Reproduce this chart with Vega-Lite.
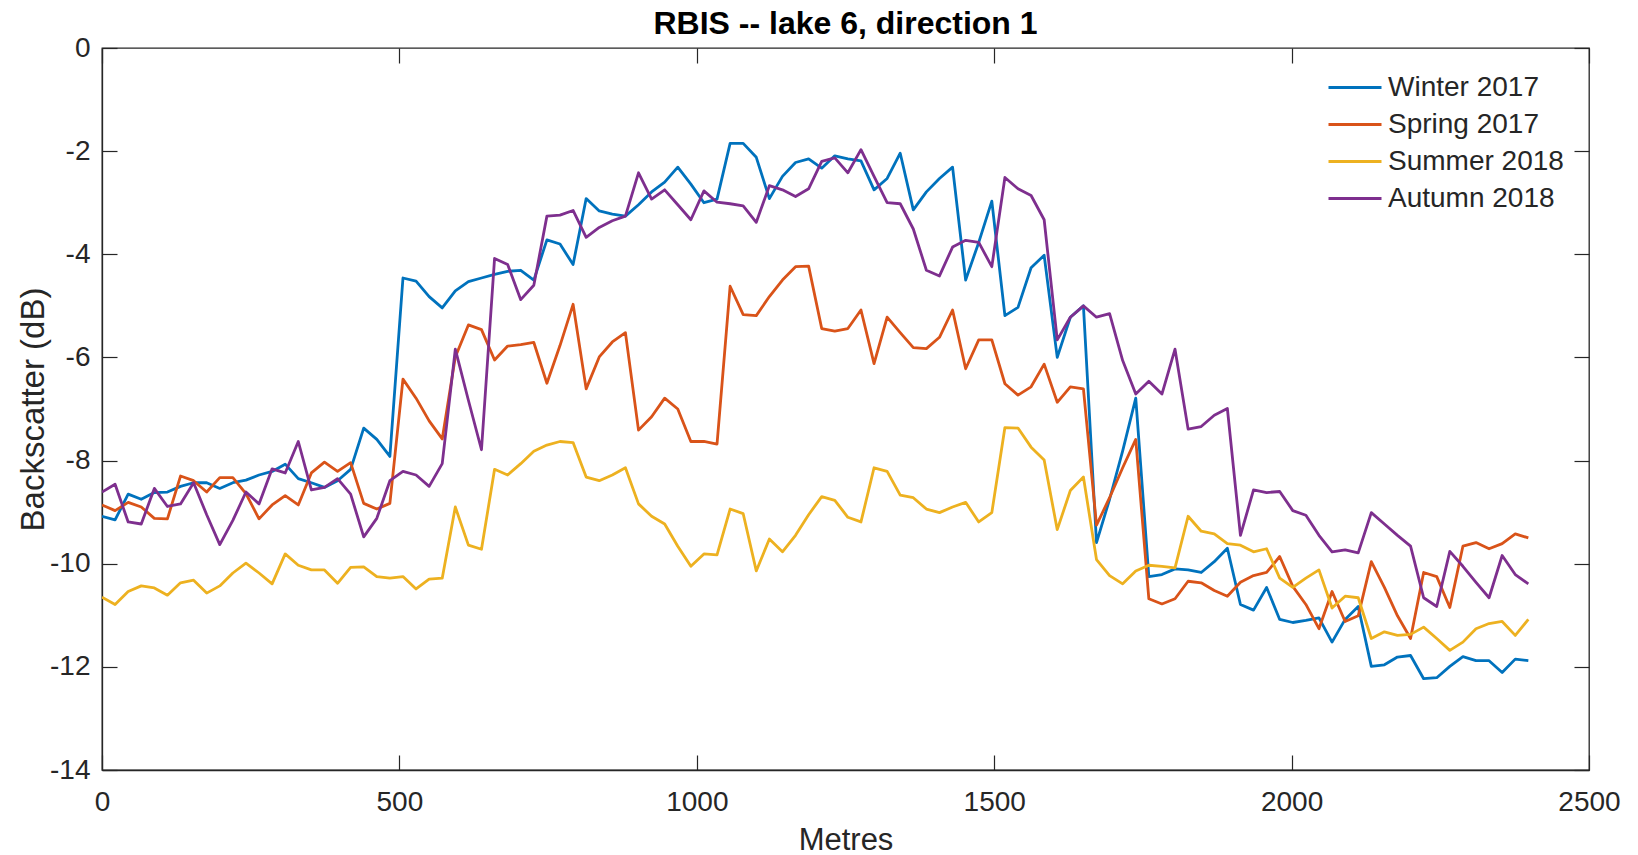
{
"$schema": "https://vega.github.io/schema/vega-lite/v6.json",
"width": 1487,
"height": 722,
"autosize": "none",
"padding": {"left": 102, "top": 48, "right": 49, "bottom": 85},
"background": "white",
"title": {"text": "RBIS -- lake 6, direction 1", "font": "Liberation Sans", "fontSize": 32, "fontWeight": "bold", "color": "#000000", "anchor": "middle", "offset": -7},
"config": {
  "font": "Liberation Sans",
  "view": {"stroke": "#262626", "strokeWidth": 1.3},
  "axis": {"grid": false, "domainColor": "#262626", "domainWidth": 1.3, "tickColor": "#262626", "tickWidth": 1.2, "tickSize": -15, "labelColor": "#262626", "labelFont": "Liberation Sans", "labelFontSize": 28, "titleColor": "#262626", "titleFont": "Liberation Sans", "titleFontSize": 31, "titleFontWeight": "normal", "labelFlush": false, "labelOverlap": false}
},
"data": {"values": [
{"m":0,"Winter 2017":-9.08,"Spring 2017":-8.86,"Summer 2018":-10.65,"Autumn 2018":-8.61},
{"m":22,"Winter 2017":-9.15,"Spring 2017":-8.97,"Summer 2018":-10.79,"Autumn 2018":-8.46},
{"m":44,"Winter 2017":-8.65,"Spring 2017":-8.81,"Summer 2018":-10.54,"Autumn 2018":-9.19},
{"m":66,"Winter 2017":-8.75,"Spring 2017":-8.9,"Summer 2018":-10.43,"Autumn 2018":-9.23},
{"m":88,"Winter 2017":-8.62,"Spring 2017":-9.12,"Summer 2018":-10.47,"Autumn 2018":-8.54},
{"m":110,"Winter 2017":-8.61,"Spring 2017":-9.13,"Summer 2018":-10.61,"Autumn 2018":-8.89},
{"m":132,"Winter 2017":-8.5,"Spring 2017":-8.3,"Summer 2018":-10.37,"Autumn 2018":-8.84},
{"m":154,"Winter 2017":-8.43,"Spring 2017":-8.39,"Summer 2018":-10.32,"Autumn 2018":-8.43},
{"m":176,"Winter 2017":-8.43,"Spring 2017":-8.61,"Summer 2018":-10.57,"Autumn 2018":-9.05},
{"m":198,"Winter 2017":-8.54,"Spring 2017":-8.33,"Summer 2018":-10.43,"Autumn 2018":-9.63},
{"m":220,"Winter 2017":-8.43,"Spring 2017":-8.33,"Summer 2018":-10.18,"Autumn 2018":-9.16},
{"m":242,"Winter 2017":-8.38,"Spring 2017":-8.64,"Summer 2018":-9.99,"Autumn 2018":-8.61},
{"m":264,"Winter 2017":-8.28,"Spring 2017":-9.13,"Summer 2018":-10.18,"Autumn 2018":-8.84},
{"m":286,"Winter 2017":-8.21,"Spring 2017":-8.86,"Summer 2018":-10.39,"Autumn 2018":-8.16},
{"m":308,"Winter 2017":-8.07,"Spring 2017":-8.68,"Summer 2018":-9.81,"Autumn 2018":-8.24},
{"m":330,"Winter 2017":-8.35,"Spring 2017":-8.86,"Summer 2018":-10.03,"Autumn 2018":-7.63},
{"m":352,"Winter 2017":-8.43,"Spring 2017":-8.24,"Summer 2018":-10.12,"Autumn 2018":-8.57},
{"m":374,"Winter 2017":-8.52,"Spring 2017":-8.03,"Summer 2018":-10.12,"Autumn 2018":-8.52},
{"m":396,"Winter 2017":-8.39,"Spring 2017":-8.21,"Summer 2018":-10.38,"Autumn 2018":-8.35},
{"m":418,"Winter 2017":-8.17,"Spring 2017":-8.04,"Summer 2018":-10.07,"Autumn 2018":-8.65},
{"m":440,"Winter 2017":-7.37,"Spring 2017":-8.83,"Summer 2018":-10.06,"Autumn 2018":-9.48},
{"m":462,"Winter 2017":-7.59,"Spring 2017":-8.94,"Summer 2018":-10.25,"Autumn 2018":-9.12},
{"m":484,"Winter 2017":-7.92,"Spring 2017":-8.83,"Summer 2018":-10.28,"Autumn 2018":-8.39},
{"m":506,"Winter 2017":-4.46,"Spring 2017":-6.42,"Summer 2018":-10.25,"Autumn 2018":-8.21},
{"m":528,"Winter 2017":-4.52,"Spring 2017":-6.79,"Summer 2018":-10.49,"Autumn 2018":-8.28},
{"m":550,"Winter 2017":-4.82,"Spring 2017":-7.23,"Summer 2018":-10.3,"Autumn 2018":-8.5},
{"m":572,"Winter 2017":-5.04,"Spring 2017":-7.58,"Summer 2018":-10.28,"Autumn 2018":-8.06},
{"m":594,"Winter 2017":-4.71,"Spring 2017":-5.99,"Summer 2018":-8.9,"Autumn 2018":-5.84},
{"m":616,"Winter 2017":-4.53,"Spring 2017":-5.37,"Summer 2018":-9.64,"Autumn 2018":-6.83},
{"m":638,"Winter 2017":-4.46,"Spring 2017":-5.46,"Summer 2018":-9.72,"Autumn 2018":-7.79},
{"m":660,"Winter 2017":-4.39,"Spring 2017":-6.05,"Summer 2018":-8.17,"Autumn 2018":-4.08},
{"m":682,"Winter 2017":-4.33,"Spring 2017":-5.78,"Summer 2018":-8.28,"Autumn 2018":-4.2},
{"m":704,"Winter 2017":-4.31,"Spring 2017":-5.75,"Summer 2018":-8.06,"Autumn 2018":-4.88},
{"m":726,"Winter 2017":-4.5,"Spring 2017":-5.71,"Summer 2018":-7.82,"Autumn 2018":-4.6},
{"m":748,"Winter 2017":-3.72,"Spring 2017":-6.5,"Summer 2018":-7.7,"Autumn 2018":-3.26},
{"m":770,"Winter 2017":-3.8,"Spring 2017":-5.77,"Summer 2018":-7.63,"Autumn 2018":-3.24},
{"m":792,"Winter 2017":-4.2,"Spring 2017":-4.97,"Summer 2018":-7.65,"Autumn 2018":-3.15},
{"m":814,"Winter 2017":-2.92,"Spring 2017":-6.61,"Summer 2018":-8.32,"Autumn 2018":-3.67},
{"m":836,"Winter 2017":-3.16,"Spring 2017":-5.99,"Summer 2018":-8.39,"Autumn 2018":-3.48},
{"m":858,"Winter 2017":-3.22,"Spring 2017":-5.7,"Summer 2018":-8.28,"Autumn 2018":-3.35},
{"m":880,"Winter 2017":-3.26,"Spring 2017":-5.52,"Summer 2018":-8.14,"Autumn 2018":-3.26},
{"m":902,"Winter 2017":-3.04,"Spring 2017":-7.41,"Summer 2018":-8.84,"Autumn 2018":-2.42},
{"m":924,"Winter 2017":-2.79,"Spring 2017":-7.15,"Summer 2018":-9.08,"Autumn 2018":-2.93},
{"m":946,"Winter 2017":-2.6,"Spring 2017":-6.79,"Summer 2018":-9.23,"Autumn 2018":-2.75},
{"m":968,"Winter 2017":-2.31,"Spring 2017":-7.0,"Summer 2018":-9.66,"Autumn 2018":-3.04},
{"m":990,"Winter 2017":-2.64,"Spring 2017":-7.63,"Summer 2018":-10.05,"Autumn 2018":-3.33},
{"m":1012,"Winter 2017":-3.0,"Spring 2017":-7.63,"Summer 2018":-9.81,"Autumn 2018":-2.77},
{"m":1034,"Winter 2017":-2.93,"Spring 2017":-7.68,"Summer 2018":-9.83,"Autumn 2018":-2.99},
{"m":1056,"Winter 2017":-1.85,"Spring 2017":-4.62,"Summer 2018":-8.94,"Autumn 2018":-3.02},
{"m":1078,"Winter 2017":-1.85,"Spring 2017":-5.17,"Summer 2018":-9.03,"Autumn 2018":-3.06},
{"m":1100,"Winter 2017":-2.12,"Spring 2017":-5.19,"Summer 2018":-10.14,"Autumn 2018":-3.38},
{"m":1122,"Winter 2017":-2.92,"Spring 2017":-4.82,"Summer 2018":-9.52,"Autumn 2018":-2.67},
{"m":1144,"Winter 2017":-2.49,"Spring 2017":-4.5,"Summer 2018":-9.77,"Autumn 2018":-2.75},
{"m":1166,"Winter 2017":-2.22,"Spring 2017":-4.24,"Summer 2018":-9.45,"Autumn 2018":-2.88},
{"m":1188,"Winter 2017":-2.15,"Spring 2017":-4.23,"Summer 2018":-9.05,"Autumn 2018":-2.73},
{"m":1210,"Winter 2017":-2.33,"Spring 2017":-5.44,"Summer 2018":-8.7,"Autumn 2018":-2.2},
{"m":1232,"Winter 2017":-2.09,"Spring 2017":-5.49,"Summer 2018":-8.77,"Autumn 2018":-2.13},
{"m":1254,"Winter 2017":-2.15,"Spring 2017":-5.44,"Summer 2018":-9.1,"Autumn 2018":-2.42},
{"m":1276,"Winter 2017":-2.19,"Spring 2017":-5.08,"Summer 2018":-9.19,"Autumn 2018":-1.97},
{"m":1298,"Winter 2017":-2.75,"Spring 2017":-6.12,"Summer 2018":-8.14,"Autumn 2018":-2.49},
{"m":1320,"Winter 2017":-2.53,"Spring 2017":-5.22,"Summer 2018":-8.21,"Autumn 2018":-3.0},
{"m":1342,"Winter 2017":-2.04,"Spring 2017":-5.52,"Summer 2018":-8.67,"Autumn 2018":-3.02},
{"m":1364,"Winter 2017":-3.14,"Spring 2017":-5.81,"Summer 2018":-8.72,"Autumn 2018":-3.51},
{"m":1386,"Winter 2017":-2.79,"Spring 2017":-5.83,"Summer 2018":-8.94,"Autumn 2018":-4.31},
{"m":1408,"Winter 2017":-2.53,"Spring 2017":-5.61,"Summer 2018":-9.01,"Autumn 2018":-4.42},
{"m":1430,"Winter 2017":-2.31,"Spring 2017":-5.08,"Summer 2018":-8.9,"Autumn 2018":-3.86},
{"m":1452,"Winter 2017":-4.5,"Spring 2017":-6.22,"Summer 2018":-8.81,"Autumn 2018":-3.73},
{"m":1474,"Winter 2017":-3.77,"Spring 2017":-5.66,"Summer 2018":-9.19,"Autumn 2018":-3.77},
{"m":1496,"Winter 2017":-2.97,"Spring 2017":-5.66,"Summer 2018":-9.01,"Autumn 2018":-4.24},
{"m":1518,"Winter 2017":-5.19,"Spring 2017":-6.51,"Summer 2018":-7.36,"Autumn 2018":-2.51},
{"m":1540,"Winter 2017":-5.03,"Spring 2017":-6.73,"Summer 2018":-7.37,"Autumn 2018":-2.73},
{"m":1562,"Winter 2017":-4.26,"Spring 2017":-6.57,"Summer 2018":-7.74,"Autumn 2018":-2.86},
{"m":1584,"Winter 2017":-4.02,"Spring 2017":-6.13,"Summer 2018":-7.99,"Autumn 2018":-3.33},
{"m":1606,"Winter 2017":-6.0,"Spring 2017":-6.87,"Summer 2018":-9.34,"Autumn 2018":-5.66},
{"m":1628,"Winter 2017":-5.22,"Spring 2017":-6.57,"Summer 2018":-8.58,"Autumn 2018":-5.22},
{"m":1650,"Winter 2017":-5.0,"Spring 2017":-6.61,"Summer 2018":-8.32,"Autumn 2018":-5.0},
{"m":1672,"Winter 2017":-9.59,"Spring 2017":-9.25,"Summer 2018":-9.92,"Autumn 2018":-5.22},
{"m":1694,"Winter 2017":-8.75,"Spring 2017":-8.72,"Summer 2018":-10.23,"Autumn 2018":-5.15},
{"m":1716,"Winter 2017":-7.81,"Spring 2017":-8.14,"Summer 2018":-10.39,"Autumn 2018":-6.06},
{"m":1738,"Winter 2017":-6.79,"Spring 2017":-7.59,"Summer 2018":-10.14,"Autumn 2018":-6.71},
{"m":1760,"Winter 2017":-10.25,"Spring 2017":-10.68,"Summer 2018":-10.03,"Autumn 2018":-6.46},
{"m":1782,"Winter 2017":-10.21,"Spring 2017":-10.78,"Summer 2018":-10.05,"Autumn 2018":-6.71},
{"m":1804,"Winter 2017":-10.1,"Spring 2017":-10.68,"Summer 2018":-10.08,"Autumn 2018":-5.84},
{"m":1826,"Winter 2017":-10.12,"Spring 2017":-10.34,"Summer 2018":-9.08,"Autumn 2018":-7.39},
{"m":1848,"Winter 2017":-10.17,"Spring 2017":-10.37,"Summer 2018":-9.37,"Autumn 2018":-7.34},
{"m":1870,"Winter 2017":-9.96,"Spring 2017":-10.52,"Summer 2018":-9.42,"Autumn 2018":-7.12},
{"m":1892,"Winter 2017":-9.7,"Spring 2017":-10.63,"Summer 2018":-9.61,"Autumn 2018":-6.99},
{"m":1914,"Winter 2017":-10.79,"Spring 2017":-10.36,"Summer 2018":-9.64,"Autumn 2018":-9.45},
{"m":1936,"Winter 2017":-10.9,"Spring 2017":-10.23,"Summer 2018":-9.77,"Autumn 2018":-8.57},
{"m":1958,"Winter 2017":-10.46,"Spring 2017":-10.17,"Summer 2018":-9.71,"Autumn 2018":-8.62},
{"m":1980,"Winter 2017":-11.08,"Spring 2017":-9.86,"Summer 2018":-10.28,"Autumn 2018":-8.6},
{"m":2002,"Winter 2017":-11.14,"Spring 2017":-10.44,"Summer 2018":-10.46,"Autumn 2018":-8.97},
{"m":2024,"Winter 2017":-11.1,"Spring 2017":-10.79,"Summer 2018":-10.28,"Autumn 2018":-9.06},
{"m":2046,"Winter 2017":-11.05,"Spring 2017":-11.26,"Summer 2018":-10.12,"Autumn 2018":-9.45},
{"m":2068,"Winter 2017":-11.52,"Spring 2017":-10.54,"Summer 2018":-10.86,"Autumn 2018":-9.77},
{"m":2090,"Winter 2017":-11.08,"Spring 2017":-11.12,"Summer 2018":-10.63,"Autumn 2018":-9.73},
{"m":2112,"Winter 2017":-10.83,"Spring 2017":-11.01,"Summer 2018":-10.66,"Autumn 2018":-9.79},
{"m":2134,"Winter 2017":-11.99,"Spring 2017":-9.96,"Summer 2018":-11.45,"Autumn 2018":-9.01},
{"m":2156,"Winter 2017":-11.96,"Spring 2017":-10.46,"Summer 2018":-11.32,"Autumn 2018":-9.23},
{"m":2178,"Winter 2017":-11.81,"Spring 2017":-11.01,"Summer 2018":-11.39,"Autumn 2018":-9.45},
{"m":2200,"Winter 2017":-11.78,"Spring 2017":-11.45,"Summer 2018":-11.37,"Autumn 2018":-9.66},
{"m":2222,"Winter 2017":-12.23,"Spring 2017":-10.17,"Summer 2018":-11.23,"Autumn 2018":-10.66},
{"m":2244,"Winter 2017":-12.21,"Spring 2017":-10.25,"Summer 2018":-11.45,"Autumn 2018":-10.83},
{"m":2266,"Winter 2017":-11.99,"Spring 2017":-10.85,"Summer 2018":-11.68,"Autumn 2018":-9.76},
{"m":2288,"Winter 2017":-11.8,"Spring 2017":-9.66,"Summer 2018":-11.52,"Autumn 2018":-10.05},
{"m":2310,"Winter 2017":-11.88,"Spring 2017":-9.59,"Summer 2018":-11.26,"Autumn 2018":-10.36},
{"m":2332,"Winter 2017":-11.88,"Spring 2017":-9.71,"Summer 2018":-11.16,"Autumn 2018":-10.66},
{"m":2354,"Winter 2017":-12.11,"Spring 2017":-9.61,"Summer 2018":-11.12,"Autumn 2018":-9.84},
{"m":2376,"Winter 2017":-11.85,"Spring 2017":-9.42,"Summer 2018":-11.39,"Autumn 2018":-10.21},
{"m":2398,"Winter 2017":-11.88,"Spring 2017":-9.5,"Summer 2018":-11.08,"Autumn 2018":-10.39}
]},
"layer": [
  {
    "transform": [{"fold": ["Winter 2017", "Spring 2017", "Summer 2018", "Autumn 2018"], "as": ["series", "value"]}],
    "mark": {"type": "line", "strokeWidth": 2.8, "strokeJoin": "round", "clip": true},
    "encoding": {
      "x": {"field": "m", "type": "quantitative", "scale": {"domain": [0, 2500], "nice": false, "zero": false},
            "axis": {"orient": "bottom", "values": [0, 500, 1000, 1500, 2000, 2500], "labelExpr": "'' + datum.value", "labelBaseline": "alphabetic", "labelPadding": 55, "title": "Metres", "titleBaseline": "alphabetic", "titleY": 79}},
      "y": {"field": "value", "type": "quantitative", "scale": {"domain": [-14, 0], "nice": false, "zero": false},
            "axis": {"orient": "left", "values": [-14, -12, -10, -8, -6, -4, -2, 0], "labelExpr": "'' + datum.value", "labelPadding": 27, "title": "Backscatter (dB)", "titleBaseline": "alphabetic", "titleX": -59, "titleAngle": 270, "titleFontSize": 33}},
      "color": {"field": "series", "type": "nominal",
                "scale": {"domain": ["Winter 2017", "Spring 2017", "Summer 2018", "Autumn 2018"], "range": ["#0072BD", "#D95319", "#EDB120", "#7E2F8E"]},
                "sort": ["Winter 2017", "Spring 2017", "Summer 2018", "Autumn 2018"],
                "legend": {"title": null, "orient": "none", "legendX": 1225, "legendY": 21, "padding": 0, "symbolType": "stroke", "symbolSize": 2809, "symbolStrokeWidth": 2.8, "labelFontSize": 28, "labelFont": "Liberation Sans", "labelColor": "#262626", "labelOffset": 5, "labelLimit": 500, "clipHeight": 37, "rowPadding": 0}}
    }
  },
  {
    "mark": {"type": "line", "opacity": 0},
    "encoding": {
      "x": {"field": "m", "type": "quantitative", "scale": {"domain": [0, 2500], "nice": false, "zero": false},
            "axis": {"orient": "top", "values": [0, 500, 1000, 1500, 2000, 2500], "labels": false, "title": null, "domain": false, "minExtent": 0, "maxExtent": 0}},
      "y": {"field": "Winter 2017", "type": "quantitative", "scale": {"domain": [-14, 0], "nice": false, "zero": false},
            "axis": {"orient": "right", "values": [-14, -12, -10, -8, -6, -4, -2, 0], "labels": false, "title": null, "domain": false, "minExtent": 0, "maxExtent": 0}}
    }
  }
],
"resolve": {"scale": {"x": "independent", "y": "independent"}}
}
